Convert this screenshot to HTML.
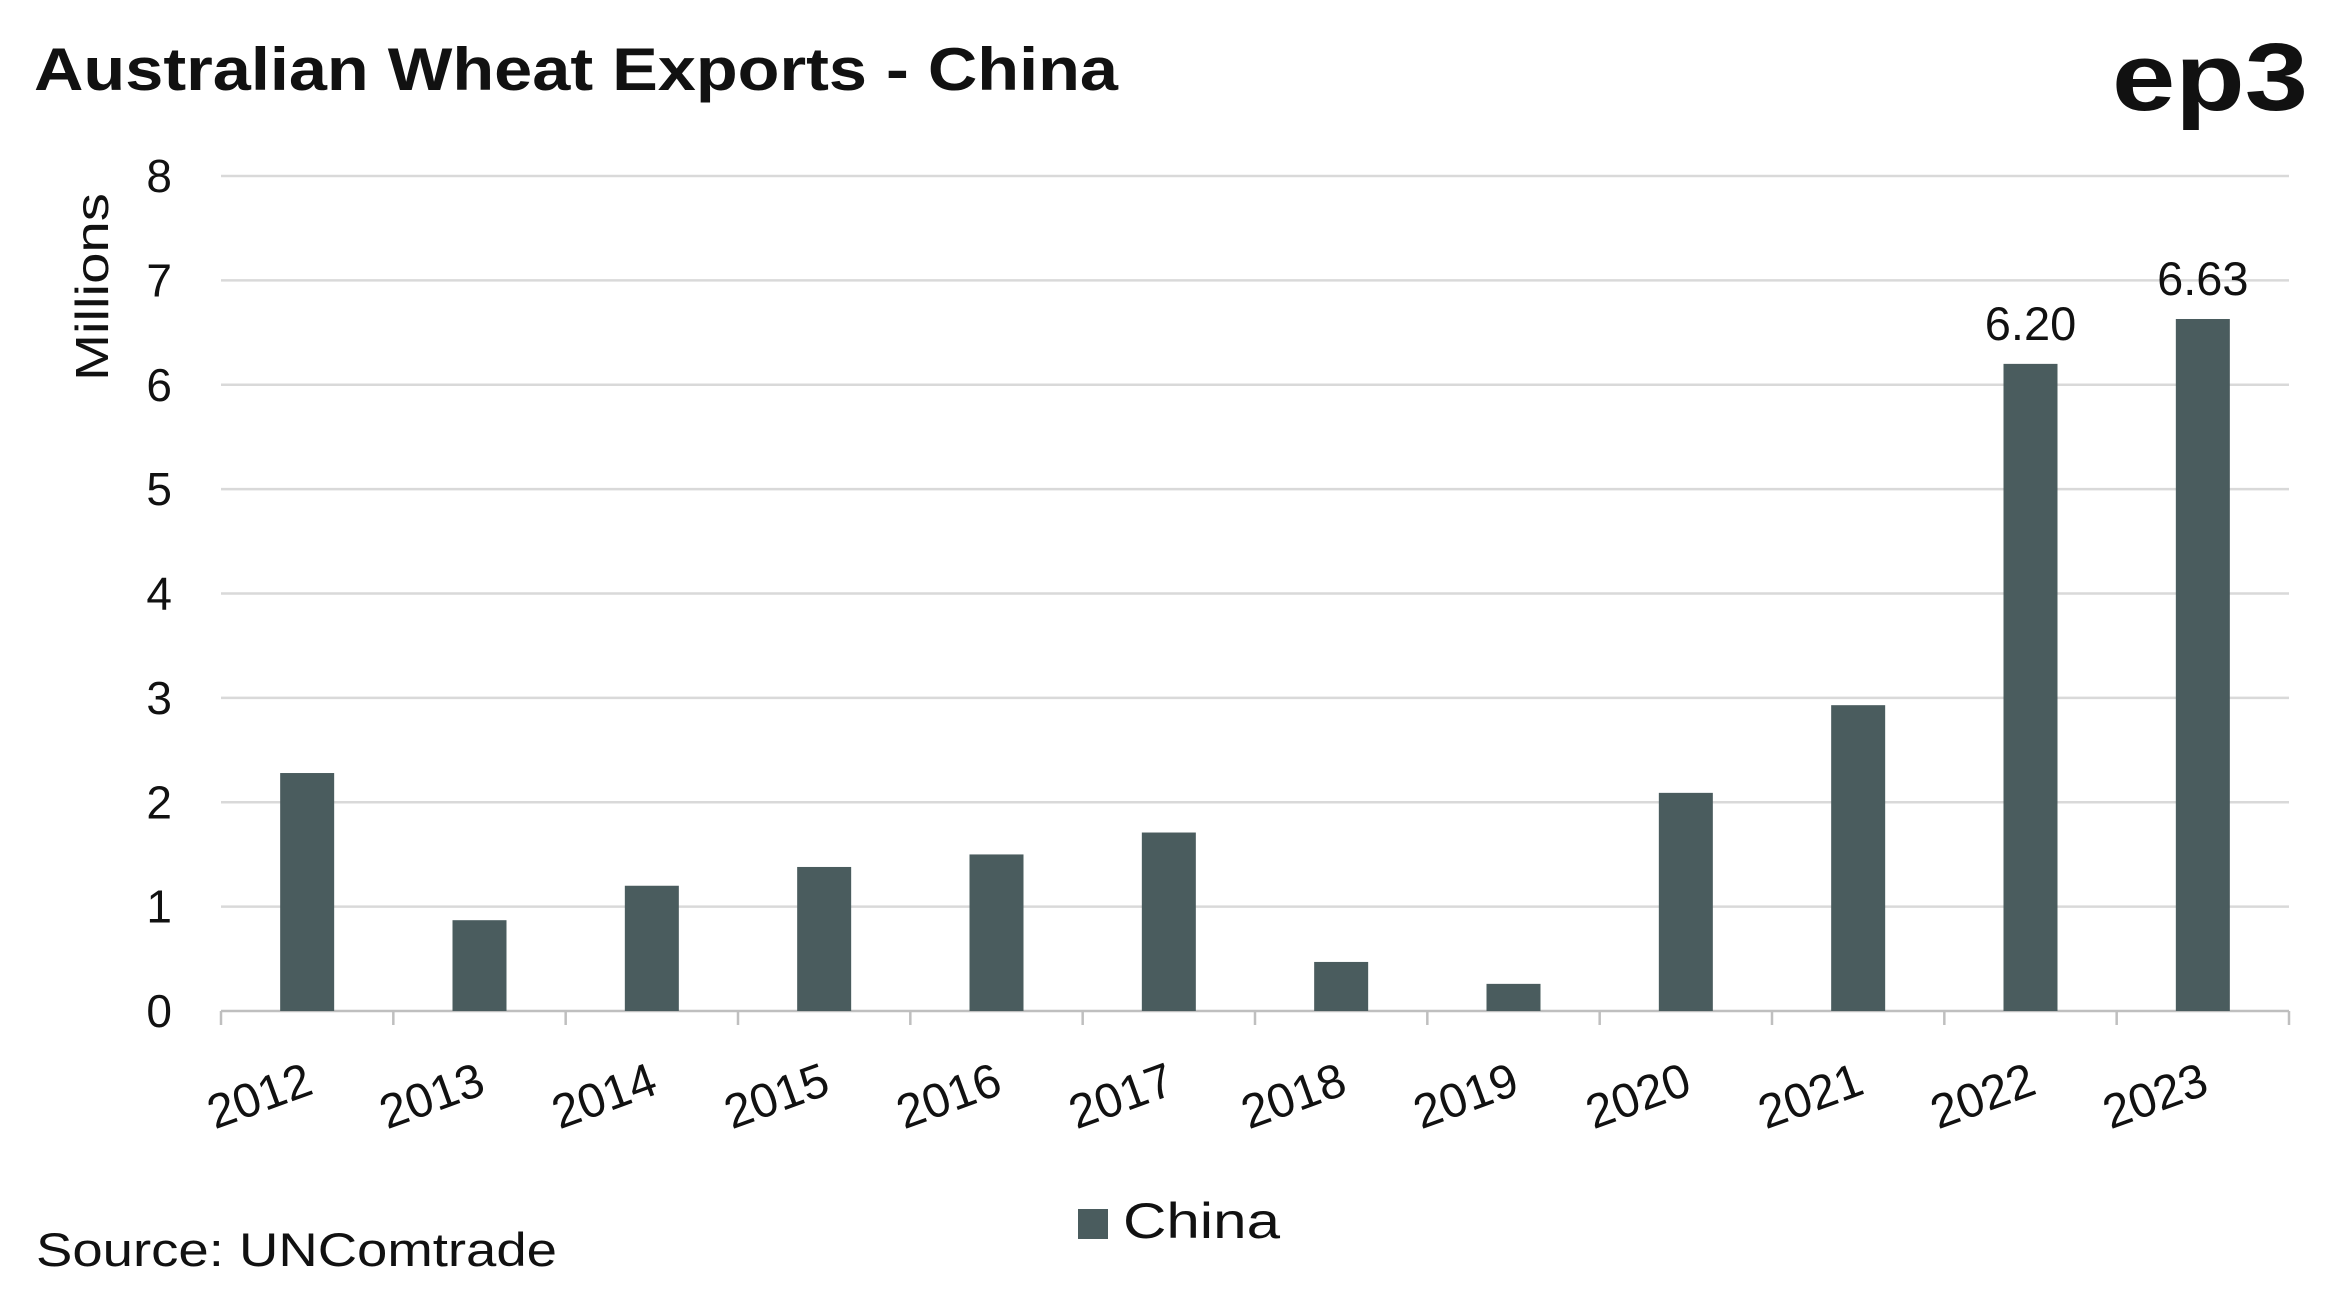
<!DOCTYPE html>
<html><head><meta charset="utf-8"><style>
html,body{margin:0;padding:0;background:#fff;}
svg{display:block;font-family:"Liberation Sans",sans-serif;}
</style></head><body>
<svg id="chart" width="2341" height="1302" viewBox="0 0 2341 1302">
<text x="34" y="90" font-size="60" font-weight="bold" fill="#111" textLength="1084" lengthAdjust="spacingAndGlyphs">Australian Wheat Exports - China</text>
<text x="2112" y="110" font-size="96" font-weight="bold" fill="#111" textLength="196" lengthAdjust="spacingAndGlyphs">ep3</text>
<text transform="translate(108,287) rotate(-90)" font-size="46" fill="#111" text-anchor="middle" textLength="188" lengthAdjust="spacingAndGlyphs">Millions</text>
<g id="grid"></g><g id="bars"></g><g id="labels"></g>
<rect x="1078" y="1209" width="30" height="30" fill="#4a5c5e"/>
<text x="1123" y="1238" font-size="50" fill="#111" textLength="157" lengthAdjust="spacingAndGlyphs">China</text>
<text x="36" y="1266" font-size="47" fill="#111" textLength="521" lengthAdjust="spacingAndGlyphs">Source: UNComtrade</text>
</svg>
<script>
const categories=["2012","2013","2014","2015","2016","2017","2018","2019","2020","2021","2022","2023"];
const values=[2.28,0.87,1.2,1.38,1.5,1.71,0.47,0.26,2.09,2.93,6.20,6.63];
const yTicks=[0,1,2,3,4,5,6,7,8];
const labeled=["2022","2023"];
const NS="http://www.w3.org/2000/svg";
const L=221,R=2289,Y0=1011,Y8=176;
const y=v=>Y0-(v/8)*(Y0-Y8);
const cw=(R-L)/categories.length;
const x=i=>L+cw*(i+0.5);
function mk(t,a,p){const e=document.createElementNS(NS,t);for(const k in a)e.setAttribute(k,a[k]);p.appendChild(e);return e;}
const grid=document.getElementById('grid'),bars=document.getElementById('bars'),lab=document.getElementById('labels');
yTicks.forEach(t=>{
 const ln=mk('line',{x1:L,x2:R,y1:y(t),y2:y(t),stroke:t===0?'#bfbfbf':'#d9d9d9','stroke-width':2.5},grid);
 
 
 const tx=mk('text',{x:172,y:y(t)+16,'font-size':46,'text-anchor':'end',fill:'#111'},lab);
 tx.textContent=t;
 
 
});
for(let i=0;i<=categories.length;i++){
 const tk=mk('line',{x1:L+cw*i,x2:L+cw*i,y1:Y0,y2:Y0+14,stroke:'#bfbfbf','stroke-width':2.5},grid);
 
 
}
categories.forEach((c,i)=>{
 const bw=54;
 const b=mk('rect',{x:x(i)-bw/2,y:y(values[i]),width:bw,height:Y0-y(values[i]),fill:'#4a5c5e'},bars);
 
 
 const t=mk('text',{transform:`translate(${x(i)+8},${Y0+82}) rotate(-20)`,'font-size':48,'text-anchor':'end',fill:'#111'},lab);
 t.textContent=c;
 
 
 if(labeled.includes(c)){
  const v=mk('text',{x:x(i),y:y(values[i])-24,'font-size':47,'text-anchor':'middle',fill:'#111'},lab);
  v.textContent=values[i].toFixed(2);
  
  
 }
});
</script>
</body></html>
